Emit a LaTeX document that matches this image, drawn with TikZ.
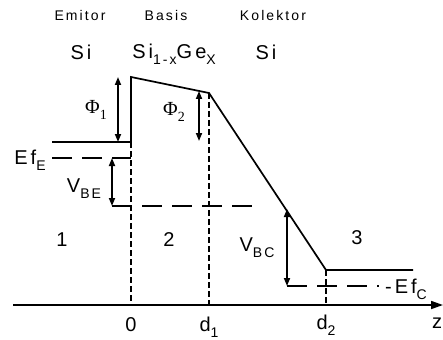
\documentclass[tikz,border=0pt]{standalone}
\usepackage{fontspec}
\setmainfont{Liberation Sans}[LetterSpace=15]
\newfontfamily\phifont{Liberation Serif}
\usetikzlibrary{arrows.meta}
\newcommand{\lowtxt}[1]{\raisebox{-6pt}{\fontsize{14}{14}\selectfont #1}}
\begin{document}
\begin{tikzpicture}[x=1pt,y=-1pt,
  band/.style={line width=1.7pt},
  longdash/.style={line width=1.7pt, dash pattern=on 20pt off 10pt},
  shortdash/.style={line width=1.7pt, dash pattern=on 6pt off 3pt},
  dim/.style={line width=1.7pt, {Triangle[length=8pt,width=6pt]}-{Triangle[length=8pt,width=6pt]}},
  big/.style={font=\fontsize{20}{22}\selectfont, inner sep=0pt},
  small/.style={font=\fontsize{14}{16}\selectfont, inner sep=0pt}]
\useasboundingbox (0,0) rectangle (443,339);
% headings
\node[small] (emit) at (80,15) {Emitor};
\node[small] (basis) at (166,15) {Basis};
\node[small] (kol) at (273,15) {Kolektor};
\node[big] (si1) at (81,52) {Si};
\node[big] (sige) at (174,54) {Si\lowtxt{1-x}Ge\lowtxt{X}};
\node[big] (si3) at (266,52) {Si};
% band line
\coordinate (e0) at (52,142);
\coordinate (b0) at (131,142);
\coordinate (btop) at (131,77);
\coordinate (bend) at (209,93);
\coordinate (cbot) at (326,270);
\coordinate (cend) at (413,270);
\draw[band] (e0) -- (b0) -- (btop) -- (bend) -- (cbot) -- (cend);
% axis
\coordinate (ax0) at (13,305);
\coordinate (ax1) at (443,305);
\coordinate (x0) at (131,305);
\coordinate (x1) at (209,305);
\coordinate (x2) at (326,305);
\draw[line width=1.7pt,-{Triangle[length=12pt,width=8pt]}] (ax0) -- (ax1);
% dashed verticals
\draw[shortdash] (b0) -- (x0);
\draw[shortdash] (bend) -- (x1);
\draw[shortdash] (cbot) -- (x2);
% Fermi levels
\coordinate (fe0) at (52,158);
\coordinate (fe1) at (131,158);
\draw[longdash] (fe0) -- (fe1);
\coordinate (vb0) at (112,206);
\coordinate (vb1) at (252,206);
\draw[longdash] (vb0) -- (vb1);
\coordinate (fc0) at (287,286);
\coordinate (fc1) at (379,286);
\draw[longdash] (fc0) -- (fc1);
% dimension arrows
\coordinate (p1a) at (118,77);
\coordinate (p1b) at (118,142);
\draw[dim] (p1a) -- (p1b);
\coordinate (p2a) at (199,91);
\coordinate (p2b) at (199,141);
\draw[dim] (p2a) -- (p2b);
\coordinate (vbea) at (112,158);
\coordinate (vbeb) at (112,206);
\draw[dim] (vbea) -- (vbeb);
\coordinate (vbca) at (287,209);
\coordinate (vbcb) at (287,286);
\draw[dim] (vbca) -- (vbcb);
% labels
\node[big,font=\phifont\fontsize{20}{22}\selectfont] (phi1) at (96,110) {Φ\lowtxt{1}};
\node[big,font=\phifont\fontsize{20}{22}\selectfont] (phi2) at (174,112) {Φ\lowtxt{2}};
\node[big] (efe) at (30,160) {Ef\lowtxt{E}};
\node[big] (vbe) at (84,189) {V\lowtxt{BE}};
\node[big] (vbc) at (257,248) {V\lowtxt{BC}};
\node[big] (efc) at (406,289) {-Ef\lowtxt{C}};
\node[big] (r1) at (62,240) {1};
\node[big] (r2) at (169,240) {2};
\node[big] (r3) at (357,238) {3};
\node[big] (t0) at (131,325) {0};
\node[big] (t1) at (209,327) {d\lowtxt{1}};
\node[big] (t2) at (326,325) {d\lowtxt{2}};
\node[big] (tz) at (437,323) {z};
\end{tikzpicture}
\end{document}
